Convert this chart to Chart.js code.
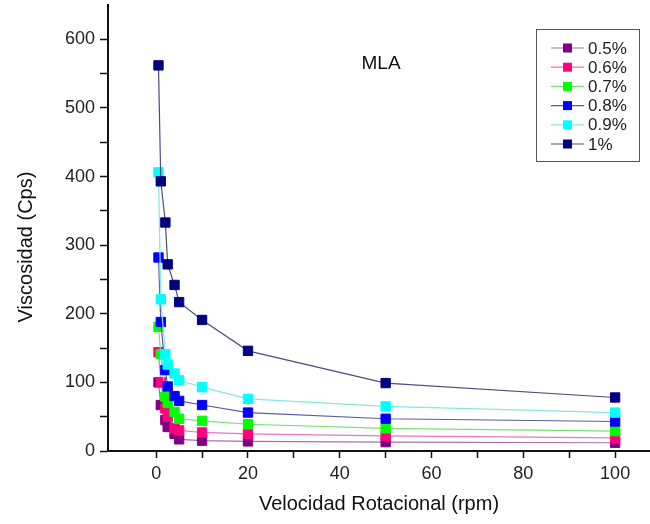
<!DOCTYPE html>
<html>
<head>
<meta charset="utf-8">
<script src="https://cdn.jsdelivr.net/npm/chart.js@4"></script>
<style>
  html, body { margin: 0; padding: 0; background: #fff; }
  #wrap { width: 650px; height: 524px; }
</style>
</head>
<body>
<div id="wrap"><canvas id="chart"></canvas></div>
<script>
// rotational speeds (rpm)
const speeds = [0.5, 1, 2, 2.5, 4, 5, 10, 20, 50, 100];

// viscosity (Cps) for each concentration
const labels = ['0.5%', '0.6%', '0.7%', '0.8%', '0.9%', '1%'];
const visc05 = [100, 67, 45, 35, 25, 17, 15, 14, 13, 12];
const visc06 = [144, 100, 62, 50, 33, 30, 27, 25, 22, 19];
const visc07 = [181, 141, 79, 70, 57, 47, 44, 39, 33, 29];
const visc08 = [282, 188, 118, 94, 80, 73, 67, 56, 47, 43];
const visc09 = [406, 221, 141, 126, 113, 103, 93, 76, 65, 56];
const visc10 = [562, 393, 333, 272, 242, 217, 191, 146, 99, 78];

const xTicks = [0, 10, 20, 30, 40, 50, 60, 70, 80, 90, 100];
const yTicks = [0, 50, 100, 150, 200, 250, 300, 350, 400, 450, 500, 550, 600];

const markerColors = ['#800080', '#ff0080', '#00ff00', '#0000ff', '#00ffff', '#000080'];
const lineColors = ['#a872a8', '#e878b8', '#78e078', '#5a5aa8', '#86e6e6', '#4c4c80'];

const FONT = '"Liberation Sans", Arial, sans-serif';
const series = [visc05, visc06, visc07, visc08, visc09, visc10];

const datasets = series.map((vals, i) => ({
  label: labels[i],
  data: speeds.map((s, j) => ({ x: s, y: vals[j] })),
  borderColor: lineColors[i],
  borderWidth: 1.2,
  backgroundColor: markerColors[i],
  pointBackgroundColor: markerColors[i],
  pointBorderColor: markerColors[i],
  pointBorderWidth: 1,
  pointStyle: 'rect',
  pointRadius: 6.6,
  tension: 0,
  clip: false,
  order: series.length - i,
}));

// legend box, panel label and y title drawn by hand
const extras = {
  id: 'extras',
  afterDatasetsDraw(chart) {
    const ctx = chart.ctx;
    const xs = chart.scales.x, ys = chart.scales.y;
    ctx.save();

    ctx.fillStyle = '#111';
    ctx.font = '19px ' + FONT;
    ctx.textAlign = 'center';
    ctx.textBaseline = 'middle';
    ctx.fillText('MLA', xs.getPixelForValue(49), ys.getPixelForValue(565));

    // legend
    const bx = 536, by = 29, bw = 103, bh = 132;
    ctx.strokeStyle = '#555';
    ctx.lineWidth = 1;
    ctx.fillStyle = '#fff';
    ctx.fillRect(bx, by, bw, bh);
    ctx.strokeRect(bx + 0.5, by + 0.5, bw, bh);
    ctx.font = '17px ' + FONT;
    ctx.textAlign = 'left';
    chart.data.datasets.forEach((ds, i) => {
      const y = by + 19 + i * 19.2;
      ctx.strokeStyle = ds.borderColor;
      ctx.lineWidth = 1.2;
      ctx.beginPath();
      ctx.moveTo(bx + 15, y);
      ctx.lineTo(bx + 48, y);
      ctx.stroke();
      ctx.fillStyle = ds.pointBackgroundColor;
      ctx.fillRect(bx + 27, y - 4.5, 9, 9);
      ctx.fillStyle = '#222';
      ctx.fillText(ds.label, bx + 52, y + 1);
    });

    // y axis title
    ctx.translate(26, 247);
    ctx.rotate(-Math.PI / 2);
    ctx.font = '20px ' + FONT;
    ctx.textAlign = 'center';
    ctx.fillStyle = '#111';
    ctx.fillText('Viscosidad (Cps)', 0, 0);
    ctx.restore();
  }
};

new Chart(document.getElementById('chart'), {
  type: 'line',
  data: { datasets },
  options: {
    responsive: true,
    maintainAspectRatio: false,
    animation: false,
    layout: { autoPadding: false, padding: { top: 5, right: 0, left: 0, bottom: 0 } },
    plugins: { legend: { display: false }, tooltip: { enabled: false } },
    scales: {
      x: {
        type: 'linear',
        min: -10.5,
        max: 107.6,
        afterBuildTicks: (s) => { s.ticks = xTicks.map(v => ({ value: v })); },
        afterFit: (s) => { s.height = 73; s.paddingLeft = 0; s.paddingRight = 0; },
        grid: { drawOnChartArea: false, drawTicks: true, tickLength: 7, color: '#111', tickWidth: 1.5 },
        border: { display: true, color: '#111', width: 2 },
        ticks: {
          color: '#222',
          font: { family: FONT, size: 18 },
          padding: 5,
          maxRotation: 0,
          autoSkip: false,
          callback: (v) => (v % 20 === 0 ? v : ''),
        },
        title: {
          display: true,
          text: 'Velocidad Rotacional (rpm)',
          color: '#111',
          font: { family: FONT, size: 20 },
          padding: { top: 7, bottom: 8 },
        },
      },
      y: {
        type: 'linear',
        min: 0,
        max: 650,
        afterBuildTicks: (s) => { s.ticks = yTicks.map(v => ({ value: v })); },
        afterFit: (s) => { s.width = 108; s.paddingTop = 0; s.paddingBottom = 0; },
        grid: { drawOnChartArea: false, drawTicks: true, tickLength: 8, color: '#111', tickWidth: 1.5 },
        border: { display: true, color: '#111', width: 2 },
        ticks: {
          color: '#222',
          font: { family: FONT, size: 18 },
          padding: 5,
          autoSkip: false,
          callback: (v) => (v % 100 === 0 ? v : ''),
        },
      },
    },
  },
  plugins: [extras],
});
</script>
</body>
</html>
